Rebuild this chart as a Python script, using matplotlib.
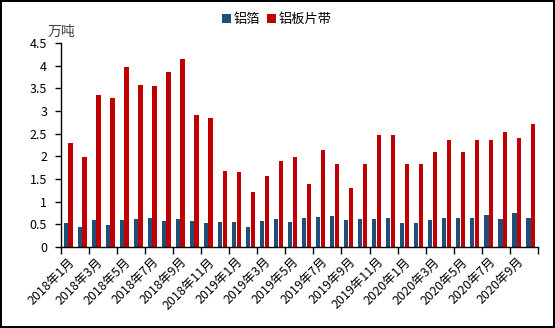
import matplotlib
matplotlib.use("Agg")
import matplotlib.pyplot as plt
import numpy as np

plt.rcParams['font.family'] = ['Noto Sans CJK SC', 'DejaVu Sans']

months = [f"{y}年{m}月" for y in (2018, 2019, 2020) for m in range(1, 13)][:34]
foil = [0.54, 0.45, 0.60, 0.49, 0.60, 0.62, 0.65, 0.58, 0.62, 0.58, 0.54, 0.56,
        0.56, 0.43, 0.58, 0.62, 0.56, 0.65, 0.67, 0.69, 0.60, 0.62, 0.62, 0.65,
        0.54, 0.54, 0.60, 0.65, 0.65, 0.65, 0.71, 0.62, 0.76, 0.65]
sheet = [2.30, 1.99, 3.36, 3.29, 3.96, 3.58, 3.56, 3.87, 4.15, 2.92, 2.84, 1.68,
         1.66, 1.22, 1.57, 1.90, 1.99, 1.40, 2.15, 1.82, 1.29, 1.84, 2.46, 2.46,
         1.84, 1.84, 2.10, 2.35, 2.10, 2.35, 2.35, 2.54, 2.41, 2.72]
series_names = ["铝箔", "铝板片带"]
colors = ["#1F4E79", "#C00000"]

fig = plt.figure(figsize=(5.55, 3.28), dpi=100)
fig.patch.set_edgecolor("black")
fig.patch.set_linewidth(1.5)
ax = fig.add_axes([0.110, 0.247, 0.859, 0.622])

x = np.arange(len(months))
w = 0.31
ax.bar(x - 0.17, foil, width=w, color=colors[0], label=series_names[0])
ax.bar(x + 0.17, sheet, width=w, color=colors[1], label=series_names[1])

ax.set_xlim(-0.5, len(months) - 0.5)
ax.set_ylim(0, 4.5)
yt = np.arange(0, 4.51, 0.5)
ax.set_yticks(yt)
ax.set_yticklabels([f"{v:g}" for v in yt], fontsize=9)
ax.tick_params(axis='y', length=4, width=1, pad=6)

ax.set_xticks(x[::2])
ax.set_xticklabels(months[::2], rotation=45, ha='right', rotation_mode='anchor', fontsize=9)
ax.tick_params(axis='x', which='major', length=0, pad=6)
ax.set_xticks(np.arange(-0.5, len(months), 2), minor=True)
ax.tick_params(axis='x', which='minor', length=5, width=1)

for s in ['top', 'right']:
    ax.spines[s].set_visible(False)
for s in ['left', 'bottom']:
    ax.spines[s].set_linewidth(1)

fig.text(0.085, 0.902, "万吨", fontsize=10, color="#404040", va='center')
ax.legend(loc='center', bbox_to_anchor=(0.453, 1.113), ncol=2, frameon=False,
          fontsize=9.5, handlelength=0.7, handleheight=0.7, handletextpad=0.2,
          columnspacing=0.5, borderpad=0)

fig.savefig("out.png", dpi=100, edgecolor=fig.get_edgecolor())
